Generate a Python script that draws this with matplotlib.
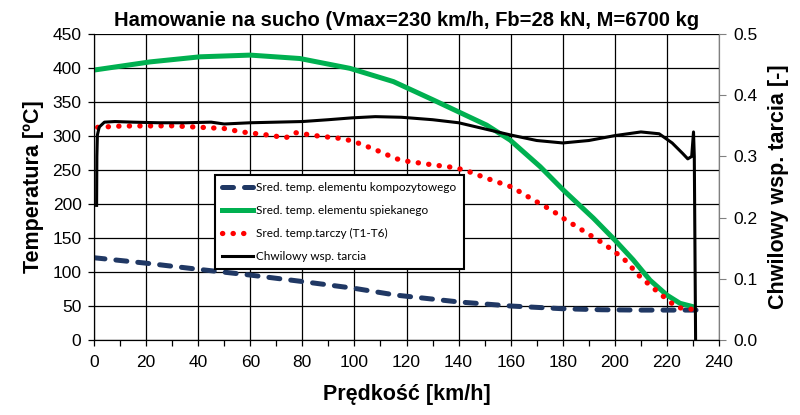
import numpy as np
import matplotlib.pyplot as plt

plt.rcParams['font.family'] = ['Liberation Sans', 'DejaVu Sans']

# Sred. temp. elementu kompozytowego
v_komp = [0, 20, 40, 60, 80, 100, 116, 140, 160, 180, 195, 210, 232]
t_komp = [121, 113, 104, 95.5, 86, 76, 66, 56, 50, 46, 44.5, 44, 44]

# Sred. temp. elementu spiekanego
v_spiek = [0, 21.5, 40.7, 60, 79, 98.3, 115, 130.3, 150.8, 159.8, 171.3, 180.2,
           191.8, 200, 207, 213.5, 220, 225, 230]
t_spiek = [397, 409, 416.5, 419, 414, 399.5, 380, 353, 316, 294, 255, 220.6,
           179, 147, 118, 88, 66, 54, 49]

# Sred. temp. tarczy (T1-T6)
v_tarcza = [1.4, 10.6, 30, 50, 56.7, 65.7, 73.7, 77.2, 86.1, 94.5, 99, 102.8,
            107.3, 111.4, 115.6, 120, 129.3, 138.6, 143, 151.4, 160.4, 168.3,
            176.1, 179.8, 195.6, 203.3, 209.7, 216.7, 223.8, 228.2, 231.4]
t_tarcza = [312.8, 314.7, 315, 311, 306, 302, 297.5, 305, 300, 296.5, 293, 287.7,
            281, 274.5, 267, 263, 258, 253.5, 249, 237, 225, 207,
            190, 180, 142, 120, 93, 70, 48, 45.5, 45]

# Chwilowy wsp. tarcia
v_mu = [1.0, 1.05, 1.1, 1.3, 2, 4, 8, 15, 25, 35, 45, 50, 60, 70, 80, 90, 99,
        108, 118, 130, 140, 150, 160, 170, 180, 190, 200, 210, 217, 222, 226,
        228, 229.5, 230.2, 230.5, 231.0]
mu = [0.22, 0.26, 0.30, 0.335, 0.348, 0.356, 0.357, 0.356, 0.355, 0.355, 0.356,
      0.353, 0.355, 0.356, 0.357, 0.360, 0.363, 0.365, 0.364, 0.360, 0.355,
      0.345, 0.335, 0.326, 0.322, 0.326, 0.334, 0.340, 0.337, 0.322, 0.305,
      0.296, 0.300, 0.34, 0.30, 0.0]

fig = plt.figure(figsize=(8, 4.15), dpi=100)
ax = fig.add_axes([0.1175, 0.1807, 0.7813, 0.7373])
ax2 = ax.twinx()

l1, = ax.plot(v_komp, t_komp, color='#203864', lw=3.6, dashes=(2.2, 2.2),
              dash_capstyle='round', label='Sred. temp. elementu kompozytowego')
l2, = ax.plot(v_spiek, t_spiek, color='#00B050', lw=3.6,
              label='Sred. temp. elementu spiekanego')
l3, = ax.plot(v_tarcza, t_tarcza, color='#FF0000', lw=3.8, dashes=(0.05, 1.95),
              dash_capstyle='round', label='Sred. temp.tarczy (T1-T6)')
l4, = ax2.plot(v_mu, mu, color='black', lw=2.2, label='Chwilowy wsp. tarcia')

ax.set_xlim(0, 240)
ax.set_ylim(0, 450)
ax.set_xticks(np.arange(0, 241, 20))
ax.set_xticks(np.arange(0, 241, 10), minor=True)
ax.set_yticks(np.arange(0, 451, 50))
ax.grid(True, color='black', lw=0.9)
ax.set_axisbelow(True)
ax.tick_params(axis='both', which='both', labelsize=12.5, direction='out',
               length=4, width=0.9, colors='black')
ax.tick_params(axis='y', pad=5)
ax.tick_params(axis='x', pad=7)

ax2.set_ylim(0, 0.5)
ax2.set_yticks(np.arange(0, 0.51, 0.1))
ax2.set_yticklabels(['%.1f' % t for t in np.arange(0, 0.51, 0.1)])
ax2.tick_params(axis='y', labelsize=12.5, direction='out', length=5,
                colors='#808080', labelcolor='black', pad=5)

for a in (ax, ax2):
    a.spines['top'].set_visible(False)
    a.spines['right'].set_color('#808080')
    a.spines['left'].set_color('black')
    a.spines['bottom'].set_color('black')

ax.set_title('Hamowanie na sucho (Vmax=230 km/h, Fb=28 kN, M=6700 kg',
             fontsize=14.5, fontweight='bold', pad=6)
ax.set_xlabel('Prędkość [km/h]', fontsize=15.5, fontweight='bold', labelpad=10)
ax.set_ylabel('Temperatura [ºC]', fontsize=15.5, fontweight='bold', labelpad=6)
ax2.set_ylabel('Chwilowy wsp. tarcia [-]', fontsize=15.5, fontweight='bold',
               labelpad=8)

leg = ax.legend(handles=[l1, l2, l3, l4], loc='upper left',
                bbox_to_anchor=(0.1936, 0.539), borderaxespad=0,
                fancybox=False, framealpha=1, edgecolor='black',
                prop={'family': 'Lato', 'size': 8.5}, handlelength=2.6,
                handletextpad=0.3, labelspacing=1.0, borderpad=0.6)
leg.get_frame().set_linewidth(1.5)
leg.set_zorder(5)

fig.savefig('out.png', dpi=100)
